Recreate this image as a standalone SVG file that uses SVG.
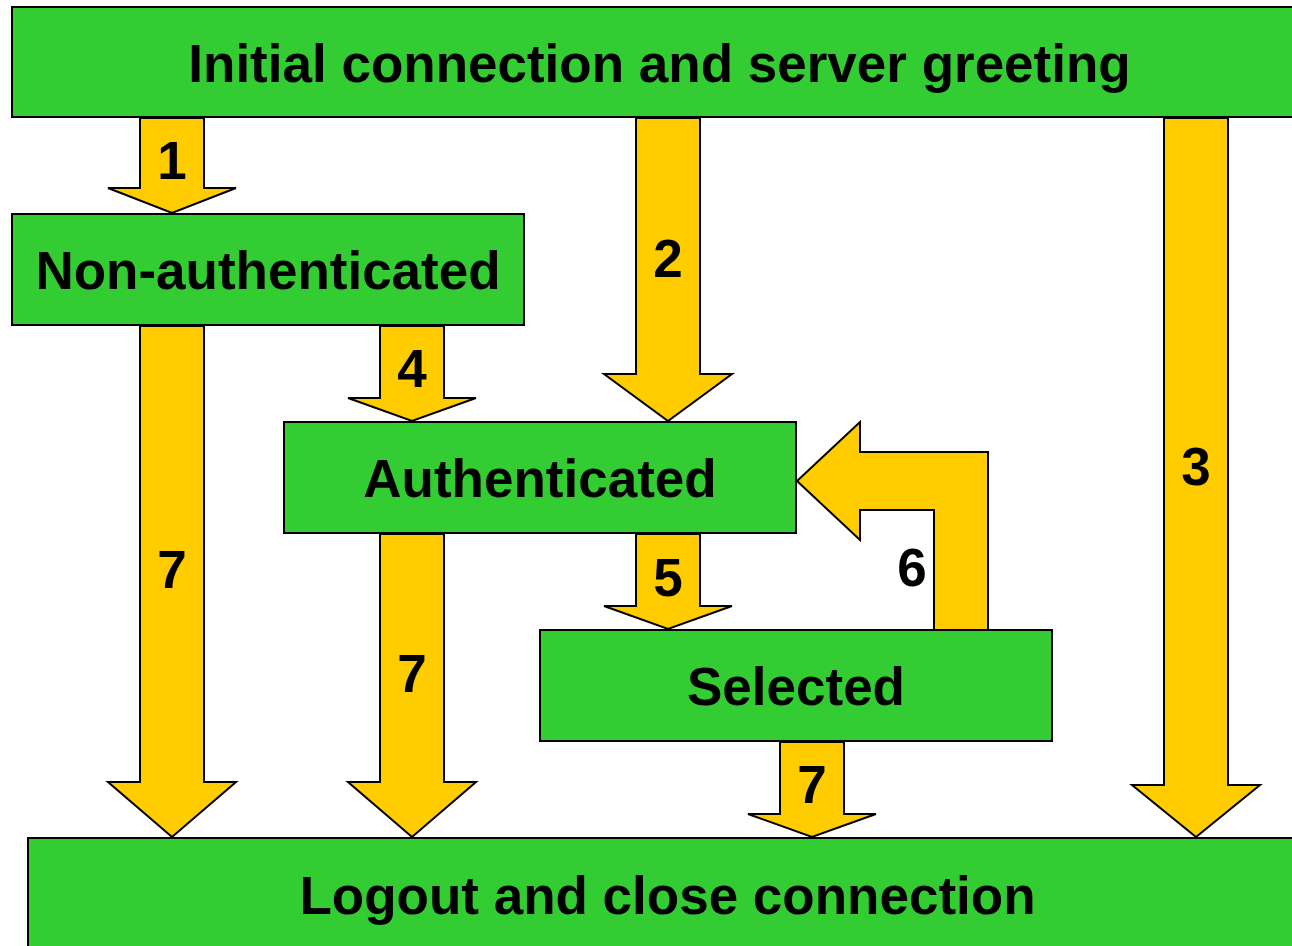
<svg xmlns="http://www.w3.org/2000/svg" width="1292" height="946" viewBox="0 0 1292 946">
  <style>
    .state { fill: #33cc33; stroke: #000; stroke-width: 2; }
    .arrow { fill: #ffcc00; stroke: #000; stroke-width: 2; stroke-linejoin: miter; }
    text { font-family: "Liberation Sans", Arial, sans-serif; font-weight: bold; font-size: 53px; fill: #000; text-anchor: middle; }
  </style>
  <rect width="1292" height="946" fill="#fff"/>

  <!-- transitions -->
  <g id="connectors">
    <!-- 1: greeting -> non-authenticated -->
    <polygon class="arrow" points="140,118 204,118 204,188 236,188 172,213 108,188 140,188"/>
    <!-- 2: greeting -> authenticated -->
    <polygon class="arrow" points="636,118 700,118 700,374 732,374 668,421 604,374 636,374"/>
    <!-- 3: greeting -> logout -->
    <polygon class="arrow" points="1164,118 1228,118 1228,785 1260,785 1196,837 1132,785 1164,785"/>
    <!-- 4: non-authenticated -> authenticated -->
    <polygon class="arrow" points="380,326 444,326 444,398 476,398 412,421 348,398 380,398"/>
    <!-- 7: non-authenticated -> logout -->
    <polygon class="arrow" points="140,326 204,326 204,782 236,782 172,837 108,782 140,782"/>
    <!-- 7: authenticated -> logout -->
    <polygon class="arrow" points="380,534 444,534 444,782 476,782 412,837 348,782 380,782"/>
    <!-- 5: authenticated -> selected -->
    <polygon class="arrow" points="636,534 700,534 700,606 732,606 668,629 604,606 636,606"/>
    <!-- 7: selected -> logout -->
    <polygon class="arrow" points="780,742 844,742 844,814 876,814 812,837 748,814 780,814"/>
    <!-- 6: selected -> authenticated (bent) -->
    <polygon class="arrow" points="934,630 934,510 860,510 860,540 797,481 860,422 860,452 988,452 988,630"/>

    <text x="172" y="179">1</text>
    <text x="668" y="277">2</text>
    <text x="1196" y="485">3</text>
    <text x="412" y="387">4</text>
    <text x="668" y="596">5</text>
    <text x="912" y="586">6</text>
    <text x="172" y="588">7</text>
    <text x="412" y="692">7</text>
    <text x="812" y="803">7</text>
  </g>

  <g id="greeting">
    <rect class="state" x="12" y="7" width="1295" height="110"/>
    <text x="659.5" y="82">Initial connection and server greeting</text>
  </g>
  <g id="non-authenticated">
    <rect class="state" x="12" y="214" width="512" height="111"/>
    <text x="268" y="289">Non-authenticated</text>
  </g>
  <g id="authenticated">
    <rect class="state" x="284" y="422" width="512" height="111"/>
    <text x="540" y="497">Authenticated</text>
  </g>
  <g id="selected">
    <rect class="state" x="540" y="630" width="512" height="111"/>
    <text x="796" y="705">Selected</text>
  </g>
  <g id="logout">
    <rect class="state" x="28" y="838" width="1279" height="120"/>
    <text x="667.5" y="914">Logout and close connection</text>
  </g>
</svg>
